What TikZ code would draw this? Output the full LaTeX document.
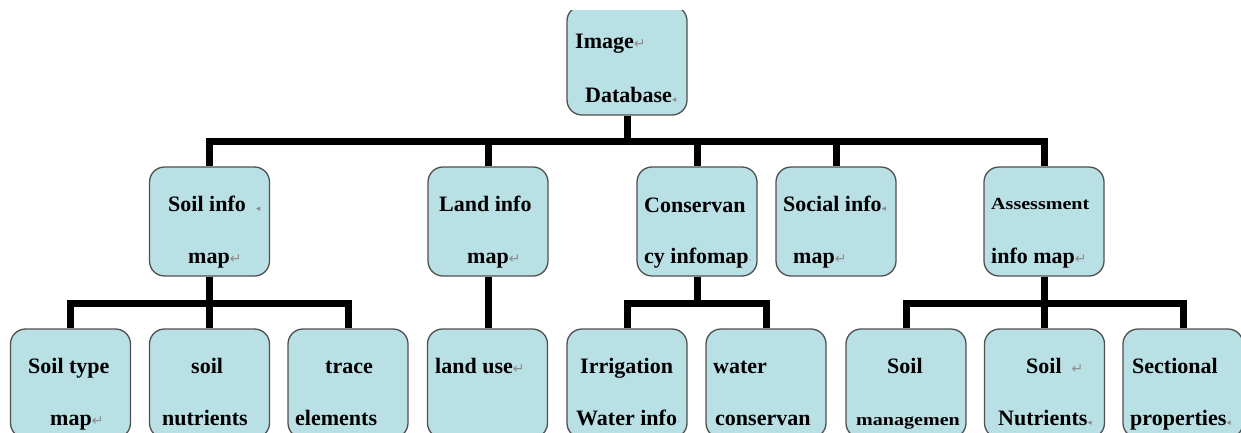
\documentclass[tikz,border=0pt]{standalone}
\usepackage{fontspec}
\setmainfont{Liberation Serif}
\newfontfamily\symfont{DejaVu Sans}
\newfontfamily\narrowfont[FakeStretch=1.18]{Liberation Serif}
\definecolor{boxfill}{RGB}{185,224,228}
\definecolor{boxline}{RGB}{80,80,80}
\definecolor{markgray}{RGB}{140,140,140}
\newcommand{\pmark}{{\color{markgray}\symfont\mdseries\fontsize{14}{14}\selectfont ↵}}
\newcommand{\tmark}{{\color{markgray}\symfont\mdseries\fontsize{9}{9}\selectfont ◂}}
\newcommand{\dmark}{{\color{markgray}\symfont\mdseries\fontsize{9}{9}\selectfont ·}}
\begin{document}
\begin{tikzpicture}[x=1pt,y=-1pt,
  box/.style={draw=boxline, line width=1.3pt, fill=boxfill, rounded corners=15pt,
    minimum width=120pt, minimum height=109pt, inner sep=0pt},
  lbl/.style={anchor=base west, inner sep=0pt, font=\bfseries\fontsize{22}{26}\selectfont},
  smalllbl/.style={anchor=base west, inner sep=0pt, font=\narrowfont\bfseries\fontsize{17}{20}\selectfont},
  conn/.style={line width=7pt, line join=miter, draw=black}]
\useasboundingbox (0,0) rectangle (1241,432);
\begin{scope}
\clip (0,10) rectangle (1241,432);
% level 1
\node[box] (top) at (627,60.5) {};
% level 2
\node[box] (soil) at (209.5,221.5) {};
\node[box] (land) at (488,221.5) {};
\node[box] (cons) at (697,221.5) {};
\node[box] (social) at (836,221.5) {};
\node[box] (assess) at (1044,221.5) {};
% level 3
\node[box] (stype) at (70.5,383.5) {};
\node[box] (snutr) at (209.5,383.5) {};
\node[box] (trace) at (348,383.5) {};
\node[box] (luse) at (487.5,383.5) {};
\node[box] (irr) at (627,383.5) {};
\node[box] (water) at (766,383.5) {};
\node[box] (mgmt) at (906,383.5) {};
\node[box] (anutr) at (1044.5,383.5) {};
\node[box] (sect) at (1183,383.5) {};
% bar levels
\coordinate (bar1) at (0,141);
\coordinate (bar2) at (0,303);
% connectors
\foreach \c in {soil,land,cons,social,assess}
  \draw[conn] (top.south) -- (top.south |- bar1) -| (\c.north);
\foreach \c in {stype,snutr,trace}
  \draw[conn] (soil.south) -- (soil.south |- bar2) -| (\c.north);
\draw[conn] (land.south) -- (land.south |- luse.north);
\foreach \c in {irr,water}
  \draw[conn] (cons.south) -- (cons.south |- bar2) -| (\c.north);
\foreach \c in {mgmt,anutr,sect}
  \draw[conn] (assess.south) -- (assess.south |- bar2) -| (\c.north);
% texts level 1
\node[lbl] (t1a) at (575,48) {Image\pmark};
\node[lbl] (t1b) at (585,102) {Database\tmark};
% texts level 2
\node[lbl] (t2a) at (168,211) {Soil info\hspace{10pt}\tmark};
\node[lbl] (t2b) at (188,263) {map\pmark};
\node[lbl] (t3a) at (439,211) {Land info};
\node[lbl] (t3b) at (467,263) {map\pmark};
\node[lbl] (t4a) at (644,212) {Conservan};
\node[lbl] (t4b) at (644,263) {cy infomap\dmark};
\node[lbl] (t5a) at (783,211) {Social info\tmark};
\node[lbl] (t5b) at (793,263) {map\pmark};
\node[smalllbl] (t6a) at (991,209) {Assessment};
\node[lbl] (t6b) at (991,263) {info map\pmark};
% texts level 3
\node[lbl] (u1a) at (28,373) {Soil type};
\node[lbl] (u1b) at (50,425) {map\pmark};
\node[lbl] (u2a) at (191,373) {soil};
\node[lbl] (u2b) at (162,425) {nutrients};
\node[lbl] (u3a) at (325,373) {trace};
\node[lbl] (u3b) at (295,425) {elements};
\node[lbl] (u4a) at (435,373) {land use\pmark};
\node[lbl] (u5a) at (580,373) {Irrigation};
\node[lbl] (u5b) at (576,425) {Water info\dmark};
\node[lbl] (u6a) at (713,373) {water};
\node[lbl] (u6b) at (715,425) {conservan};
\node[lbl] (u7a) at (887,373) {Soil};
\node[smalllbl] (u7b) at (856,425) {managemen};
\node[lbl] (u8a) at (1026,373) {Soil\hspace{10pt}\pmark};
\node[lbl] (u8b) at (998,425) {Nutrients\tmark};
\node[lbl] (u9a) at (1132,373) {Sectional};
\node[lbl] (u9b) at (1130,425) {properties\tmark};
\end{scope}
\end{tikzpicture}
\end{document}
